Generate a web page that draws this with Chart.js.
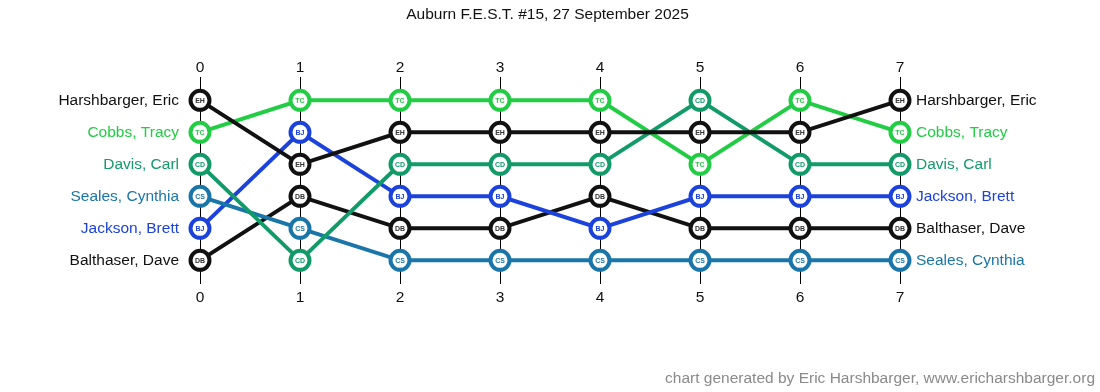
<!DOCTYPE html>
<html>
<head>
<meta charset="utf-8">
<script src="https://cdn.jsdelivr.net/npm/chart.js@4"></script>
<style>
  html, body { margin: 0; padding: 0; background: #fff; }
  #wrap { width: 1100px; height: 392px; }
</style>
</head>
<body>
<div id="wrap"><canvas id="c" width="1100" height="392"></canvas></div>
<script>
// Standings after each round (1 = leader)
const rounds = [0, 1, 2, 3, 4, 5, 6, 7];
const names = ['Harshbarger, Eric', 'Cobbs, Tracy', 'Davis, Carl', 'Seales, Cynthia', 'Jackson, Brett', 'Balthaser, Dave'];
const initials = ['EH', 'TC', 'CD', 'CS', 'BJ', 'DB'];
const colors = ['#111111', '#22cc44', '#129a68', '#1a76a8', '#1c42dc', '#111111'];

const rankEH = [1, 3, 2, 2, 2, 2, 2, 1];
const rankTC = [2, 1, 1, 1, 1, 3, 1, 2];
const rankCD = [3, 6, 3, 3, 3, 1, 3, 3];
const rankCS = [4, 5, 6, 6, 6, 6, 6, 6];
const rankBJ = [5, 2, 4, 4, 5, 4, 4, 4];
const rankDB = [6, 4, 5, 5, 4, 5, 5, 5];
const ranks = [rankEH, rankTC, rankCD, rankCS, rankBJ, rankDB];

const titleText = 'Auburn F.E.S.T. #15, 27 September 2025';
const footerText = 'chart generated by Eric Harshbarger, www.ericharshbarger.org';

const FONT = "'Liberation Sans', Arial, sans-serif";
const lastRound = rounds.length - 1;

// who holds a given rank in a given round
function holderAt(round, rank) {
  return ranks.findIndex(r => r[round] === rank);
}

const datasets = names.map((n, i) => ({
  label: n,
  data: rounds.map((x, k) => ({ x: x, y: ranks[i][k] })),
  borderColor: colors[i],
  backgroundColor: '#ffffff',
  borderWidth: 4,
  pointRadius: 9.5,
  pointBorderWidth: 4,
  pointBackgroundColor: '#ffffff',
  pointBorderColor: colors[i],
  tension: 0,
  clip: false
}));

// initials written inside each marker
const markerText = {
  id: 'markerText',
  afterDatasetsDraw(chart) {
    const ctx = chart.ctx;
    ctx.save();
    ctx.font = 'bold 7px ' + FONT;
    ctx.textAlign = 'center';
    ctx.textBaseline = 'middle';
    chart.data.datasets.forEach((ds, i) => {
      const meta = chart.getDatasetMeta(i);
      ctx.fillStyle = i === 0 || i === 5 ? '#333333' : colors[i];
      meta.data.forEach(pt => ctx.fillText(initials[i], pt.x, pt.y + 0.5));
    });
    ctx.restore();
  }
};

const rankTicks = s => { s.ticks = [1, 2, 3, 4, 5, 6].map(v => ({ value: v })); };
const roundTicks = s => { s.ticks = rounds.map(v => ({ value: v })); };

new Chart(document.getElementById('c'), {
  type: 'line',
  data: { datasets },
  plugins: [markerText],
  options: {
    responsive: false,
    animation: false,
    events: [],
    layout: { padding: { left: 0, right: 5, top: 0, bottom: 0 } },
    plugins: {
      legend: { display: false },
      tooltip: { enabled: false },
      title: {
        display: true,
        text: titleText,
        color: '#111111',
        font: { family: FONT, size: 15.5, weight: 'normal' },
        padding: { top: 5, bottom: 4 }
      },
      subtitle: {
        display: true,
        position: 'bottom',
        align: 'end',
        text: footerText,
        color: '#8a8a8a',
        font: { family: FONT, size: 15.5, weight: 'normal' },
        padding: { top: 0, bottom: 3.7 }
      }
    },
    scales: {
      x: {
        type: 'linear',
        position: 'bottom',
        min: 0, max: lastRound,
        afterBuildTicks: roundTicks,
        afterFit: s => { s.height = 86; },
        ticks: { color: '#111111', font: { family: FONT, size: 15.5 }, padding: 5 },
        grid: { color: '#000000', lineWidth: 1, drawTicks: false },
        border: { display: false }
      },
      x2: {
        type: 'linear',
        position: 'top',
        min: 0, max: lastRound,
        afterBuildTicks: roundTicks,
        afterFit: s => { s.height = 49.4; },
        ticks: { color: '#111111', font: { family: FONT, size: 15.5 }, padding: 0 },
        grid: { display: false, drawTicks: false },
        border: { display: false }
      },
      y: {
        type: 'linear',
        position: 'left',
        reverse: true,
        min: 0.27, max: 6.73,
        afterBuildTicks: rankTicks,
        afterFit: s => { s.width = 200; },
        ticks: {
          font: { family: FONT, size: 15.5 },
          padding: 21,
          callback: v => names[holderAt(0, v)],
          color: c => colors[holderAt(0, c.tick.value)]
        },
        grid: { display: false, drawTicks: false },
        border: { display: false }
      },
      y2: {
        type: 'linear',
        position: 'right',
        reverse: true,
        min: 0.27, max: 6.73,
        afterBuildTicks: rankTicks,
        afterFit: s => { s.width = 195; },
        ticks: {
          font: { family: FONT, size: 15.5 },
          padding: 16,
          callback: v => names[holderAt(lastRound, v)],
          color: c => colors[holderAt(lastRound, c.tick.value)]
        },
        grid: { display: false, drawTicks: false },
        border: { display: false }
      }
    }
  }
});
</script>
</body>
</html>
